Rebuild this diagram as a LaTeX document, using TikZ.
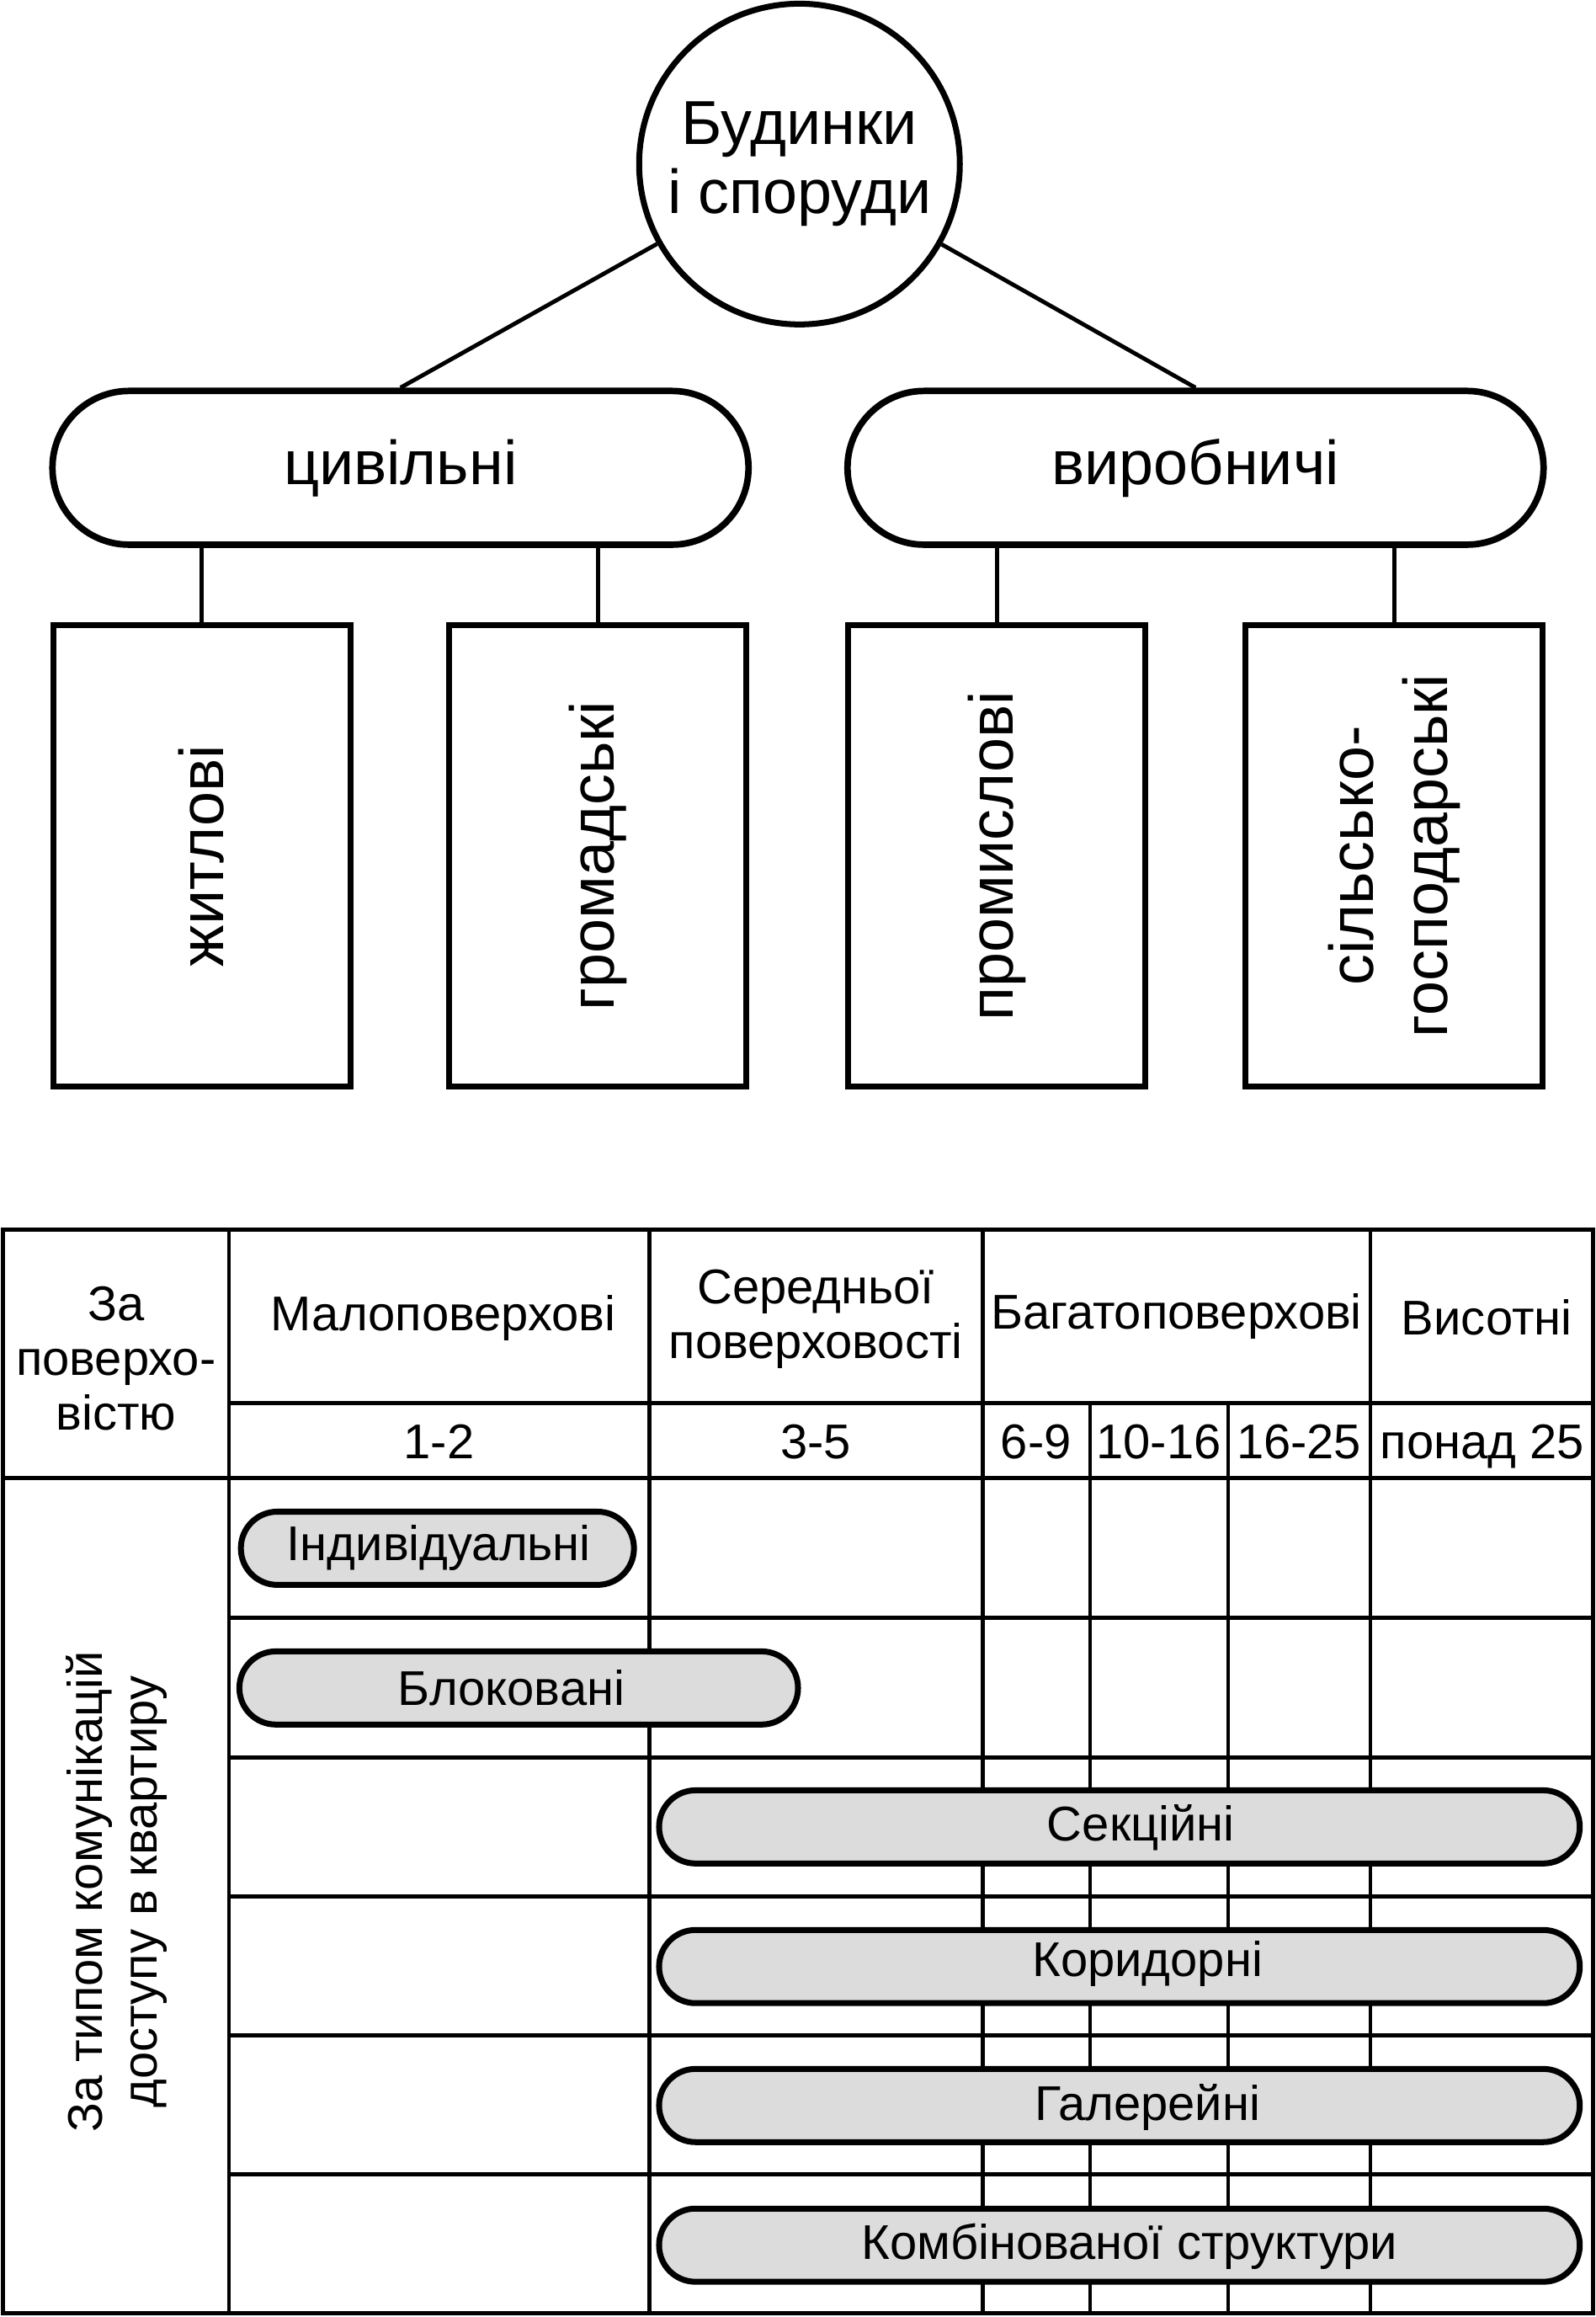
\documentclass[tikz,border=0pt]{standalone}
\usepackage{fontspec}
\setmainfont{Liberation Sans}
\definecolor{pillgray}{RGB}{220,220,220}
\begin{document}
\begin{tikzpicture}[x=0.5pt,y=-0.5pt,
  topfont/.style={font=\fontsize{21pt}{23.5pt}\selectfont},
  tabfont/.style={font=\fontsize{16.5pt}{18.5pt}\selectfont},
  rootnode/.style={circle,draw,line width=2pt,minimum size=108.5pt,inner sep=0pt,align=center,topfont},
  groupnode/.style={rectangle,draw,line width=2.2pt,rounded corners=25.9pt,minimum width=235.5pt,minimum height=52pt,inner sep=0pt,topfont},
  leafbox/.style={rectangle,draw,line width=2pt,minimum width=100.5pt,minimum height=156pt,inner sep=0pt},
  leaftext/.style={rotate=90,align=center,font=\fontsize{21pt}{25pt}\selectfont,inner sep=0pt},
  link/.style={line width=1.4pt},
  hline/.style={line width=1.4pt},
  vline/.style={line width=1.2pt},
  pill/.style={rectangle,draw,fill=pillgray,line width=2pt,rounded corners=12.3pt,minimum height=24.75pt,inner sep=0pt},
  pilltext/.style={tabfont,inner sep=0pt,anchor=base},
  celltext/.style={tabfont,inner sep=0pt,anchor=base},
  multitext/.style={tabfont,inner sep=0pt,align=center},
]
\useasboundingbox (0,0) rectangle (1080,1567.6);

% ---------- tree ----------
\node[rootnode] (root) at (541,111) {Будинки\\і споруди};
\node[groupnode] (civ) at (271,316.5) {цивільні};
\node[groupnode] (ind) at (809,316.5) {виробничі};
\draw[link] (root) -- (civ.north);
\draw[link] (root) -- (ind.north);

\node[leafbox] (res) at (136.5,579) {};
\node[leafbox] (pub) at (404.5,579) {};
\node[leafbox] (prom) at (674.5,579) {};
\node[leafbox] (agr) at (943.5,579) {};
\node[leaftext] (restext) at (res.center) {житлові};
\node[leaftext] (pubtext) at (pub.center) {громадські};
\node[leaftext] (promtext) at (prom.center) {промислові};
\node[leaftext] (agrtext) at (agr.center) {сільсько-\\господарські};

\draw[link] (res.north) -- (res.north |- civ.south);
\draw[link] (pub.north) -- (pub.north |- civ.south);
\draw[link] (prom.north) -- (prom.north |- ind.south);
\draw[link] (agr.north) -- (agr.north |- ind.south);

% ---------- table grid ----------
\draw[hline] (2,832) rectangle (1078,1565);
\draw[hline] (155,949.5) -- (1078,949.5);
\draw[hline] (2,1000) -- (1078,1000);
\foreach \yy in {1094.5,1189,1283,1377,1471} \draw[hline] (155,\yy) -- (1078,\yy);
\foreach \xx in {155,439.5,665,927.5} \draw[vline] (\xx,832) -- (\xx,1565);
\foreach \xx in {737.5,831} \draw[vline] (\xx,949.5) -- (\xx,1565);

% ---------- table header ----------
\node[multitext] (hfloors) at (78.5,919) {За\\поверхо-\\вістю};
\node[celltext] (hlow) at (300,900) {Малоповерхові};
\node[multitext] (hmid) at (552,892.5) {Середньої\\поверховості};
\node[celltext] (hmulti) at (796,899) {Багатоповерхові};
\node[celltext] (hhigh) at (1006,903) {Висотні};
\node[celltext] (n1) at (297,987) {1-2};
\node[celltext] (n2) at (552,987) {3-5};
\node[celltext] (n3) at (701,987) {6-9};
\node[celltext] (n4) at (784,987) {10-16};
\node[celltext] (n5) at (879,987) {16-25};
\node[celltext] (n6) at (1003,987) {понад 25};
\node[multitext,rotate=90] (hcomm) at (79,1280) {За типом комунікацій\\доступу в квартиру};

% ---------- pills ----------
\node[pill,minimum width=133pt] (p1) at (296,1047.5) {};
\node[pill,minimum width=189pt] (p2) at (351,1142) {};
\node[pill,minimum width=311.5pt] (p3) at (757.5,1236) {};
\node[pill,minimum width=311.5pt] (p4) at (757.5,1330.5) {};
\node[pill,minimum width=311.5pt] (p5) at (757.5,1424.5) {};
\node[pill,minimum width=311.5pt] (p6) at (757.5,1519) {};
\node[pilltext] (t1) at (297,1055.7) {Індивідуальні};
\node[pilltext] (t2) at (346,1153.5) {Блоковані};
\node[pilltext] (t3) at (772,1245.6) {Секційні};
\node[pilltext] (t4) at (776.5,1337) {Коридорні};
\node[pilltext] (t5) at (776.5,1434.5) {Галерейні};
\node[pilltext] (t6) at (764.5,1528.5) {Комбінованої структури};
\end{tikzpicture}
\end{document}
